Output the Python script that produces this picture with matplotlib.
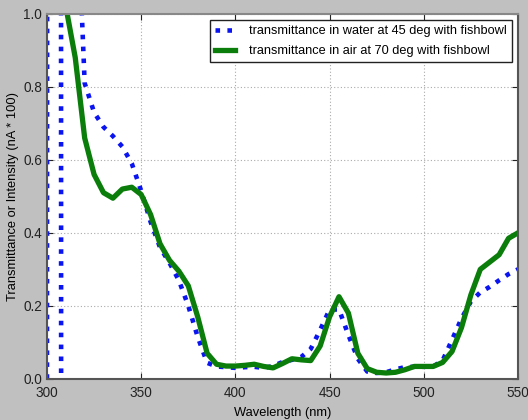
import numpy as np
import matplotlib
matplotlib.use("Agg")
import matplotlib.pyplot as plt

nan = np.nan

# wavelengths (nm)
wl_water = [300, 305, 310, 312.5, 315, 320, 325, 330, 335, 340, 345, 350, 355, 360, 365,
            370, 375, 380, 385, 390, 395, 400, 405, 410, 415, 420, 425, 430, 435, 440,
            445, 450, 455, 460, 465, 470, 475, 480, 485, 490, 495, 500, 505, 510, 515,
            520, 525, 530, 535, 540, 545, 550]
water_45 = [0.0, 60.0, -60.0, nan, 1.44, 0.81, 0.73, 0.69, 0.665, 0.636, 0.59, 0.515, 0.43,
            0.36, 0.318, 0.27, 0.20, 0.115, 0.044, 0.034, 0.032, 0.030, 0.032, 0.033, 0.030,
            0.035, 0.046, 0.052, 0.060, 0.082, 0.134, 0.19, 0.19, 0.12, 0.055, 0.020, 0.016,
            0.018, 0.026, 0.032, 0.033, 0.033, 0.034, 0.050, 0.107, 0.165, 0.212, 0.237,
            0.252, 0.270, 0.287, 0.30]

wl_air = [300, 305, 310, 315, 320, 325, 330, 335, 340, 345, 350, 355, 360, 365, 370, 375,
          380, 385, 390, 395, 400, 405, 410, 415, 420, 425, 430, 435, 440, 445, 450, 455,
          460, 465, 470, 475, 480, 485, 490, 495, 500, 505, 510, 515, 520, 525, 530, 535,
          540, 545, 550]
air_70 = [1.5, 1.8, 1.02, 0.88, 0.66, 0.56, 0.51, 0.495, 0.52, 0.525, 0.505, 0.45, 0.37,
          0.325, 0.295, 0.255, 0.17, 0.07, 0.04, 0.035, 0.035, 0.037, 0.040, 0.034, 0.030,
          0.042, 0.055, 0.052, 0.050, 0.09, 0.17, 0.225, 0.18, 0.07, 0.028, 0.018, 0.016,
          0.018, 0.025, 0.034, 0.034, 0.034, 0.045, 0.075, 0.14, 0.23, 0.30, 0.32, 0.34,
          0.385, 0.40]

plt.rcParams["font.family"] = ["Liberation Sans", "DejaVu Sans"]

fig = plt.figure(figsize=(5.28, 4.2), dpi=100, facecolor="#c0c0c0")
ax = fig.add_axes([0.089, 0.098, 0.892, 0.869])

ax.plot(wl_water, water_45, color="#0a14f0", lw=3.3, dashes=(1, 1.6),
        dash_capstyle="butt", label="transmittance in water at 45 deg with fishbowl")
ax.plot(wl_air, air_70, color="#0a7d0a", lw=3.8,
        label="transmittance in air at 70 deg with fishbowl")

ax.set_xlim(300, 550)
ax.set_ylim(0, 1.0)
ax.set_xticks([300, 350, 400, 450, 500, 550])
ax.set_yticks([0.0, 0.2, 0.4, 0.6, 0.8, 1.0])
ax.set_yticklabels(["0.0", "0.2", "0.4", "0.6", "0.8", "1.0"])
ax.grid(True, color="#aaaaaa", linestyle=(0, (1, 2)), lw=0.8)
ax.tick_params(direction="in", top=True, right=True, labelsize=9.8, length=4,
               colors="#222222")
ax.tick_params(axis="x", pad=5)
for name, s in ax.spines.items():
    s.set_color("#555555" if name in ("left", "bottom", "right") else "#888888")
    s.set_linewidth(1.5)

ax.set_xlabel("Wavelength (nm)", fontsize=9.3, labelpad=5)
ax.set_ylabel("Transmittance or Intensity (nA * 100)", fontsize=9.3, labelpad=3)

leg = ax.legend(loc="upper right", fontsize=9.2, fancybox=False, framealpha=1,
                edgecolor="#222222", handlelength=1.5, handletextpad=1.1,
                borderaxespad=0.5, labelspacing=0.6)
leg.get_frame().set_linewidth(1.0)

fig.savefig("out.png", dpi=100, facecolor=fig.get_facecolor())
